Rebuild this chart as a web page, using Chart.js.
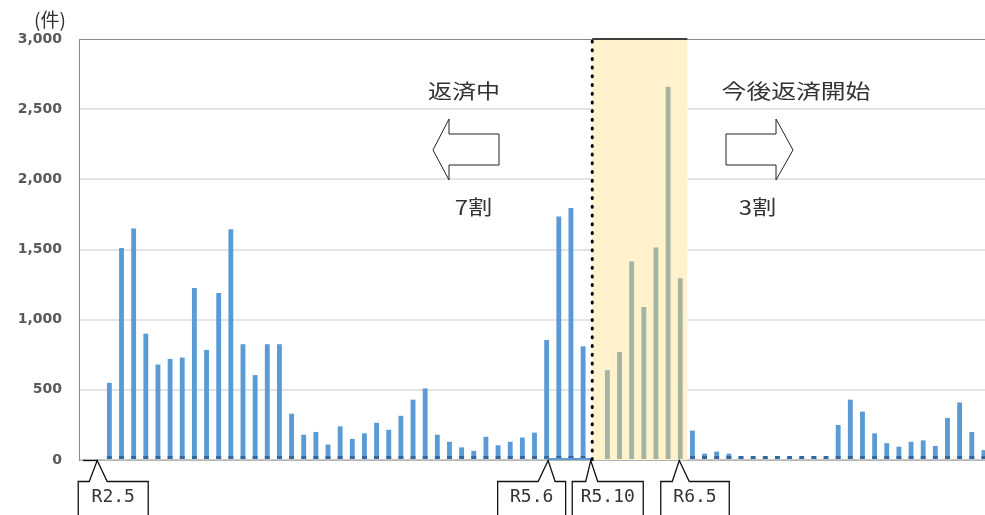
<!DOCTYPE html>
<html lang="ja">
<head>
<meta charset="utf-8">
<title>返済状況</title>
<script src="https://cdn.jsdelivr.net/npm/chart.js@4.4.1/dist/chart.umd.min.js"></script>
<style>
  html, body { margin: 0; padding: 0; background: #fff; overflow: hidden; }
  #wrap { width: 1000px; height: 515px; }
</style>
</head>
<body>
<div id="wrap"><canvas id="chart" width="1000" height="515"></canvas></div>
<script>
// monthly counts (件), R2.4 - R8.6
var startMonths = [0, 0];                          // R2.4, R2.5
var repaying = [550, 1510, 1650, 900, 680, 720, 730, 1225, 785, 1190,
                1645, 825, 605, 825, 825, 330, 180, 200, 110, 240,
                150, 190, 265, 215, 315, 430, 510, 180, 130, 90,
                65, 165, 105, 130, 160, 195, 855, 1735, 1795, 810];   // R2.6 - R5.9
var boundaryMonth = [0];                           // R5.10
var upcoming = [640, 770, 1415, 1090, 1515, 2660, 1295];              // R5.11 - R6.5
var laterMonths = [210, 45, 60, 45, 25, 15, 15, 15, 15, 15,
                   25, 15, 250, 430, 345, 190, 120, 95, 130, 140,
                   100, 300, 410, 200, 70];        // R6.6 - R8.6
var yTicks = [0, 500, 1000, 1500, 2000, 2500, 3000];

// month labels R2.4 .. R8.6
var labels = [];
for (var yr = 2; yr <= 8; yr++) {
    for (var mo = 1; mo <= 12; mo++) {
        if (yr === 2 && mo < 4) continue;
        if (yr === 8 && mo > 6) break;
        labels.push('R' + yr + '.' + mo);
    }
}
var counts = startMonths.concat(repaying, boundaryMonth, upcoming, laterMonths);

var shadeFrom = labels.indexOf('R5.10');
var shadeTo = labels.indexOf('R6.5');

function inShade(i) { return i >= shadeFrom && i <= shadeTo; }

var barColors = counts.map(function (v, i) {
    return inShade(i) ? '#a5b3a1' : '#5b9bd5';
});

// callout boxes under the axis: offsets are relative to the pointer tip
var callouts = [
    { label: 'R2.5',  dx: 0,    boxL: -19,   boxR: 51,   pL: -8,  pR: 10, lead: true },
    { label: 'R5.6',  dx: 1.5,  boxL: -50.5, boxR: 17.5, pL: -10, pR: 7 },
    { label: 'R5.10', dx: -4.5, boxL: -18.5, boxR: 52.5, pL: -5,  pR: 7 },
    { label: 'R6.5',  dx: -1,   boxL: -18.5, boxR: 50,   pL: -7,  pR: 10 }
];

function stretchText(ctx, str, cx, cy, font, sx) {
    ctx.save();
    ctx.translate(cx, cy);
    ctx.scale(sx, 1);
    ctx.font = font;
    ctx.textAlign = 'center';
    ctx.textBaseline = 'middle';
    ctx.fillText(str, 0, 0);
    ctx.restore();
}

function outline(ctx, pts) {
    ctx.beginPath();
    ctx.moveTo(pts[0][0], pts[0][1]);
    for (var i = 1; i < pts.length; i++) ctx.lineTo(pts[i][0], pts[i][1]);
    ctx.closePath();
    ctx.fillStyle = '#fff';
    ctx.fill();
    ctx.stroke();
}

var annotations = {
    id: 'annotations',
    beforeDatasetsDraw: function (chart) {
        var ctx = chart.ctx, x = chart.scales.x, area = chart.chartArea;
        var half = (x.getPixelForValue(1) - x.getPixelForValue(0)) / 2;
        var x0 = x.getPixelForValue(shadeFrom) - 3;
        var x1 = x.getPixelForValue(shadeTo) + half + 1;
        ctx.save();
        ctx.fillStyle = '#fff2cc';
        ctx.fillRect(x0, area.top, x1 - x0, area.bottom - area.top);
        ctx.restore();
    },
    afterDatasetsDraw: function (chart) {
        var ctx = chart.ctx, x = chart.scales.x, area = chart.chartArea;
        var half = (x.getPixelForValue(1) - x.getPixelForValue(0)) / 2;
        var lineX = x.getPixelForValue(shadeFrom) - 3;
        ctx.save();
        // darker foot on the blue bars
        ctx.fillStyle = '#35679d';
        chart.getDatasetMeta(0).data.forEach(function (bar, i) {
            if (inShade(i) || !counts[i]) return;
            ctx.fillRect(bar.x - bar.width / 2, bar.base - 3, bar.width, 3);
        });
        // top edge of the shaded period
        ctx.strokeStyle = '#000';
        ctx.lineWidth = 1.5;
        ctx.beginPath();
        ctx.moveTo(lineX, area.top);
        ctx.lineTo(x.getPixelForValue(shadeTo) + half + 1, area.top);
        ctx.stroke();
        // base line linking R5.6 - R5.9
        ctx.strokeStyle = '#5b9bd5';
        ctx.lineWidth = 2;
        ctx.beginPath();
        ctx.moveTo(x.getPixelForValue(labels.indexOf('R5.6')), area.bottom - 1);
        ctx.lineTo(lineX, area.bottom - 1);
        ctx.stroke();
        // dotted divider
        ctx.strokeStyle = '#000';
        ctx.lineWidth = 3;
        ctx.lineCap = 'round';
        ctx.setLineDash([1, 7.7]);
        ctx.beginPath();
        ctx.moveTo(lineX, area.top + 2);
        ctx.lineTo(lineX, area.bottom);
        ctx.stroke();
        ctx.restore();
    },
    afterDraw: function (chart) {
        var ctx = chart.ctx, x = chart.scales.x, area = chart.chartArea;
        ctx.save();
        ctx.fillStyle = '#333';
        ctx.font = '19px "Noto Sans CJK JP"';
        ctx.textAlign = 'center';
        ctx.textBaseline = 'middle';
        ctx.fillText('(件)', 50, 20);

        var jp = '20px "Noto Sans CJK JP"';
        stretchText(ctx, '返済中', 464, 91, jp, 1.2);
        stretchText(ctx, '7割', 473.5, 207.5, jp, 1.2);
        stretchText(ctx, '今後返済開始', 796, 91, jp, 1.24);
        stretchText(ctx, '3割', 757.5, 207.5, jp, 1.2);

        ctx.strokeStyle = '#222';
        ctx.lineWidth = 1;
        outline(ctx, [[433, 150], [449, 119], [449, 134], [499, 134], [499, 165], [449, 165], [449, 180]]);
        outline(ctx, [[726, 134], [776, 134], [776, 119], [793, 150], [776, 180], [776, 165], [726, 165]]);

        // callouts
        var top = area.bottom + 21.5;
        ctx.lineWidth = 1.3;
        ctx.strokeStyle = '#111';
        callouts.forEach(function (c) {
            var tip = x.getPixelForValue(labels.indexOf(c.label)) + c.dx;
            var tipY = area.bottom + 0.5;
            ctx.beginPath();
            ctx.moveTo(tip + c.boxL, 530);
            ctx.lineTo(tip + c.boxL, top);
            ctx.lineTo(tip + c.pL, top);
            ctx.lineTo(tip, tipY);
            ctx.lineTo(tip + c.pR, top);
            ctx.lineTo(tip + c.boxR, top);
            ctx.lineTo(tip + c.boxR, 530);
            ctx.fillStyle = '#fff';
            ctx.fill();
            ctx.stroke();
            if (c.lead) {
                ctx.beginPath();
                ctx.moveTo(area.left + 4, tipY);
                ctx.lineTo(tip, tipY);
                ctx.stroke();
            }
            ctx.fillStyle = '#333';
            ctx.font = '18px "DejaVu Sans Mono"';
            ctx.textAlign = 'center';
            ctx.textBaseline = 'middle';
            ctx.fillText(c.label, tip + (c.boxL + c.boxR) / 2, 497);
        });
        ctx.restore();
    }
};

new Chart(document.getElementById('chart'), {
    type: 'bar',
    data: {
        labels: labels,
        datasets: [{
            data: counts,
            backgroundColor: barColors,
            borderWidth: 0,
            barPercentage: 0.4,
            categoryPercentage: 1
        }]
    },
    options: {
        responsive: false,
        animation: false,
        devicePixelRatio: 1,
        layout: { padding: { top: 39, right: 10, bottom: 55, left: 0 } },
        plugins: {
            legend: { display: false },
            tooltip: { enabled: false }
        },
        scales: {
            x: {
                offset: true,
                ticks: { display: false },
                grid: { display: false, drawTicks: false },
                border: { display: true, color: '#b4b4b4', width: 1 },
                afterFit: function (scale) { scale.height = 0; }
            },
            y: {
                min: 0,
                max: 3000,
                afterBuildTicks: function (scale) {
                    scale.ticks = yTicks.map(function (v) { return { value: v }; });
                },
                ticks: {
                    padding: 17,
                    color: '#595959',
                    font: { family: '"DejaVu Sans"', size: 14, weight: 'bold' },
                    callback: function (v) { return v.toLocaleString('en-US'); }
                },
                grid: {
                    drawTicks: false,
                    lineWidth: function (c) { return c.tick && c.tick.value === 3000 ? 1 : 2; },
                    color: function (c) {
                        if (c.tick && c.tick.value === 3000) return '#8a8a8a';
                        if (c.tick && c.tick.value === 0) return '#c8c8c8';
                        return '#e4e4e4';
                    }
                },
                border: { color: '#8a8a8a', width: 1 },
                afterFit: function (scale) { scale.width = 79; }
            }
        }
    },
    plugins: [annotations]
});
</script>
</body>
</html>
